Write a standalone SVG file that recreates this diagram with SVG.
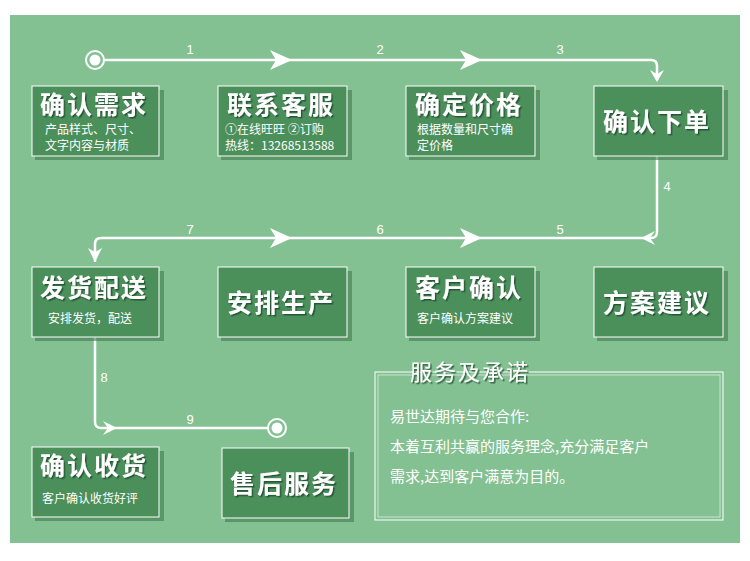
<svg xmlns="http://www.w3.org/2000/svg" width="750" height="561" viewBox="0 0 750 561">
<defs>
<style>
.bg{fill:#84c192}
.box{fill:#4b8f5b;stroke:#ffffff;stroke-width:1}
.sh{fill:#3f7a4d;opacity:.6}
.t{font-family:"Noto Sans CJK SC","Noto Sans",sans-serif;fill:#fff;font-weight:bold;font-size:25px;letter-spacing:2px}
.ts{font-family:"Noto Sans CJK SC","Noto Sans",sans-serif;fill:#fff;font-size:12px}
.l{font-family:"Liberation Sans",sans-serif;fill:#fff;font-size:13px;text-anchor:middle}
.ln{stroke:#fff;stroke-width:2.5;fill:none}
.ah{fill:#fff}
.p{font-family:"Noto Sans CJK SC","Noto Sans",sans-serif;fill:#fff;font-size:15px}
</style>
<filter id="ds" x="-5%" y="-5%" width="115%" height="120%"><feDropShadow dx="1.5" dy="1.5" stdDeviation="0.5" flood-color="#1e4a2a" flood-opacity="0.8"/></filter>
</defs>
<rect x="0" y="0" width="750" height="561" fill="#fff"/>
<rect class="bg" x="10" y="15" width="730" height="528"/>

<g id="connectors">
<path class="ln" d="M95,60 H651 Q657,60 657,66 V80"/>
<polygon class="ah" points="270,50 292,60 270,70 276,60"/>
<polygon class="ah" points="460,50 482,60 460,70 466,60"/>
<polygon class="ah" points="650,70 657,82 664,70 657,74"/>
<path class="ln" d="M657,156 V232 Q657,238 651,238 H101 Q95,238 95,244 V262"/>
<polygon class="ah" points="655,231 641,238 655,245 650,238"/>
<polygon class="ah" points="270,228 292,238 270,248 276,238"/>
<polygon class="ah" points="460,228 482,238 460,248 466,238"/>
<polygon class="ah" points="88,248 95,262 102,248 95,252"/>
<path class="ln" d="M95,337 V422 Q95,428 101,428 H270"/>
<polygon class="ah" points="103,421 117,428 103,435 108,428"/>
<circle cx="95" cy="60" r="9" fill="#84c192" stroke="#fff" stroke-width="2"/>
<circle cx="95" cy="60" r="5.5" fill="#fff"/>
<circle cx="277" cy="428" r="9" fill="#84c192" stroke="#fff" stroke-width="2"/>
<circle cx="277" cy="428" r="5.5" fill="#fff"/>
<text class="l" x="190" y="54">1</text>
<text class="l" x="380" y="54">2</text>
<text class="l" x="560" y="54">3</text>
<text class="l" x="667" y="191">4</text>
<text class="l" x="560" y="234">5</text>
<text class="l" x="380" y="234">6</text>
<text class="l" x="190" y="234">7</text>
<text class="l" x="104" y="382">8</text>
<text class="l" x="190" y="424">9</text>
</g>

<g id="n1"><rect class="sh" x="35" y="90" width="129" height="70"/><rect class="box" x="32" y="86" width="127" height="70"/>
<text class="t" x="40" y="114" filter="url(#ds)">确认需求</text>
<text class="ts" x="45" y="134">产品样式、尺寸、</text><text class="ts" x="45" y="150">文字内容与材质</text></g>
<g id="n2"><rect class="sh" x="221" y="90" width="131" height="70"/><rect class="box" x="218" y="86" width="129" height="70"/>
<text class="t" x="227" y="114" filter="url(#ds)">联系客服</text>
<text class="ts" x="225" y="134">①在线旺旺 ②订购</text><text class="ts" x="225" y="150">热线：13268513588</text></g>
<g id="n3"><rect class="sh" x="409" y="90" width="131" height="70"/><rect class="box" x="406" y="86" width="129" height="70"/>
<text class="t" x="415" y="114" filter="url(#ds)">确定价格</text>
<text class="ts" x="417" y="134">根据数量和尺寸确</text><text class="ts" x="417" y="150">定价格</text></g>
<g id="n4"><rect class="sh" x="597" y="90" width="131" height="70"/><rect class="box" x="594" y="86" width="129" height="70"/>
<text class="t" x="603" y="131" filter="url(#ds)">确认下单</text></g>

<g id="n5"><rect class="sh" x="35" y="271" width="129" height="70"/><rect class="box" x="32" y="267" width="127" height="70"/>
<text class="t" x="40" y="297" filter="url(#ds)">发货配送</text>
<text class="ts" x="48" y="323">安排发货，配送</text></g>
<g id="n6"><rect class="sh" x="221" y="271" width="131" height="70"/><rect class="box" x="218" y="267" width="129" height="70"/>
<text class="t" x="227" y="312" filter="url(#ds)">安排生产</text></g>
<g id="n7"><rect class="sh" x="409" y="271" width="131" height="70"/><rect class="box" x="406" y="267" width="129" height="70"/>
<text class="t" x="415" y="297" filter="url(#ds)">客户确认</text>
<text class="ts" x="417" y="323">客户确认方案建议</text></g>
<g id="n8"><rect class="sh" x="597" y="271" width="131" height="70"/><rect class="box" x="594" y="267" width="129" height="70"/>
<text class="t" x="603" y="312" filter="url(#ds)">方案建议</text></g>

<g id="n9"><rect class="sh" x="35" y="451" width="129" height="70"/><rect class="box" x="32" y="447" width="127" height="70"/>
<text class="t" x="40" y="475" filter="url(#ds)">确认收货</text>
<text class="ts" x="42" y="503">客户确认收货好评</text></g>
<g id="n10"><rect class="sh" x="225" y="452" width="129" height="70"/><rect class="box" x="222" y="448" width="127" height="70"/>
<text class="t" x="230" y="493" filter="url(#ds)">售后服务</text></g>

<g id="service">
<rect x="375" y="372" width="348" height="148" fill="none" stroke="#fff" stroke-width="1"/>
<rect x="378" y="375" width="342" height="142" fill="none" stroke="#fff" stroke-width="0.8" opacity="0.7"/>
<text class="t" x="410" y="380" style="font-size:22px;font-weight:normal" filter="url(#ds)">服务及承诺</text>
<text class="p" x="390" y="422">易世达期待与您合作:</text>
<text class="p" x="390" y="452">本着互利共赢的服务理念,充分满足客户</text>
<text class="p" x="390" y="482">需求,达到客户满意为目的。</text>
</g>
</svg>
